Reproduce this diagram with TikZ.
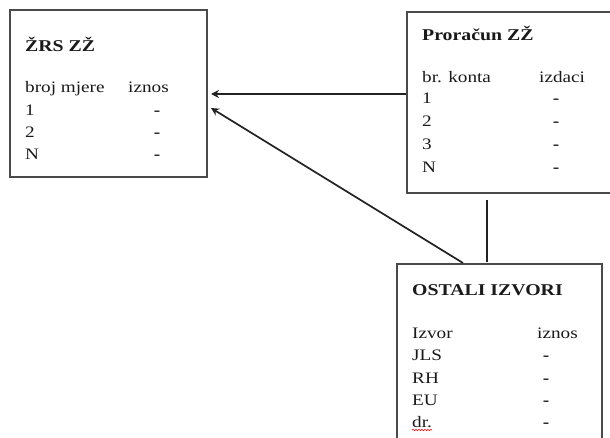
\documentclass[tikz,border=0pt]{standalone}
\usepackage{fontspec}
\setmainfont{Liberation Serif}[FakeStretch=1.2]
\usetikzlibrary{arrows.meta,decorations.pathmorphing}
\definecolor{boxline}{HTML}{4A4A4A}
\definecolor{txt}{HTML}{1A1A1A}
\definecolor{conn}{HTML}{222222}
\begin{document}
\begin{tikzpicture}[x=1pt,y=-1pt,
  frame/.style={draw=boxline,line width=1.8pt,fill=white,rectangle,inner sep=0pt},
  tx/.style={anchor=base west,inner sep=0pt,text=txt,font=\fontsize{16}{19}\selectfont},
  ttl/.style={tx,font=\fontsize{16.5}{19}\selectfont\bfseries},
  dsh/.style={anchor=base,inner sep=0pt,text=txt,font=\fontsize{16}{19}\selectfont\bfseries},
  arr/.style={draw=conn,line width=1.7pt,-{Stealth[length=8pt,width=8pt]}},
  ln/.style={draw=conn,line width=1.7pt}]
\useasboundingbox (0,0) rectangle (610,438);
\clip (0,0) rectangle (610,438);
\fill[white] (0,0) rectangle (610,438);
% boxes
\node[frame,minimum width=197pt,minimum height=167pt] (b1) at (108.5,93.5) {};
\node[frame,minimum width=213pt,minimum height=181pt] (b2) at (513.5,102.5) {};
\node[frame,minimum width=205pt,minimum height=186pt] (b3) at (499.5,357) {};
% box 1 text
\node[ttl] (t1) at (25,52) {ŽRS ZŽ};
\node[tx] (h1a) at (25,93) {broj mjere};
\node[tx] (h1b) at (128,93) {iznos};
\node[tx] (r1a) at (25,116) {1};
\node[tx] (r1b) at (25,138) {2};
\node[tx] (r1c) at (25,160) {N};
\node[dsh] (d1a) at (157,116) {-};
\node[dsh] (d1b) at (157,138) {-};
\node[dsh] (d1c) at (157,160) {-};
% box 2 text
\node[ttl] (t2) at (422,41) {Proračun ZŽ};
\node[tx] (h2a) at (422,83) {br. konta};
\node[tx] (h2b) at (539,83) {izdaci};
\node[tx] (r2a) at (422,104) {1};
\node[tx] (r2b) at (422,127) {2};
\node[tx] (r2c) at (422,150) {3};
\node[tx] (r2d) at (422,173) {N};
\node[dsh] (d2a) at (556,104) {-};
\node[dsh] (d2b) at (556,127) {-};
\node[dsh] (d2c) at (556,150) {-};
\node[dsh] (d2d) at (556,173) {-};
% box 3 text
\node[ttl] (t3) at (412,295) {OSTALI IZVORI};
\node[tx] (h3a) at (412,338) {Izvor};
\node[tx] (h3b) at (537,338) {iznos};
\node[tx] (r3a) at (412,360) {JLS};
\node[tx] (r3b) at (412,383) {RH};
\node[tx] (r3c) at (412,405) {EU};
\node[tx] (r3d) at (412,427) {dr.};
\node[dsh] (d3a) at (546,360) {-};
\node[dsh] (d3b) at (546,383) {-};
\node[dsh] (d3c) at (546,405) {-};
\node[dsh] (d3d) at (546,427) {-};
\draw[red,line width=0.6pt,decorate,decoration={snake,amplitude=0.7pt,segment length=3pt}] ([yshift=-3pt]r3d.base west) -- ([yshift=-3pt]r3d.base east);
% connectors
\coordinate (e1) at (211,94);
\coordinate (e2) at (211,108);
\coordinate (s3) at (463,263);
\coordinate (v1) at (487,200);
\coordinate (v2) at (487,262);
\draw[arr] (b2.west |- e1) -- (e1);
\draw[arr] (s3) -- (e2);
\draw[ln] (v1) -- (v2);
\end{tikzpicture}
\end{document}
